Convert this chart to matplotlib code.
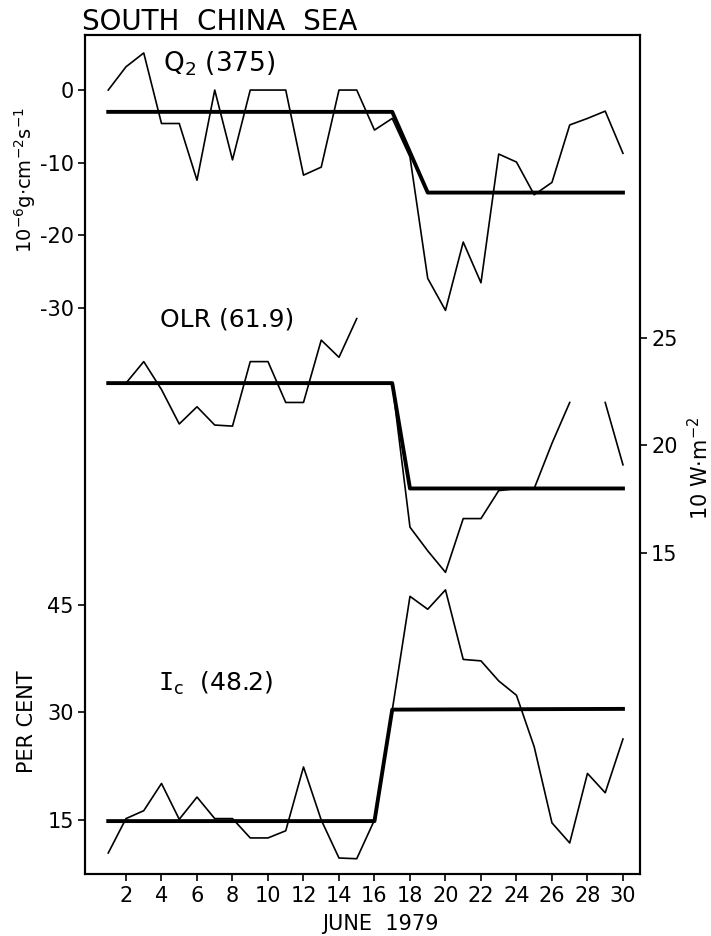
import numpy as np
import matplotlib.pyplot as plt

plt.rcParams['axes.unicode_minus'] = False
plt.rcParams['font.family'] = 'DejaVu Sans'

days = np.arange(1, 31)

# Q2 apparent moisture sink (10^-6 g cm^-2 s^-1)
q2 = [0, 3.2, 5.1, -4.6, -4.6, -12.4, 0, -9.6, 0, 0,
      0, -11.7, -10.6, 0, 0, -5.5, -3.9, -9.2, -25.9, -30.3,
      -20.9, -26.5, -8.8, -9.9, -14.4, -12.7, -4.8, -3.9, -2.9, -8.7]
q2_mean_days = [1, 17, 19, 30]
q2_mean = [-3.0, -3.0, -14.1, -14.1]

# OLR (10 W m^-2)
olr = [22.9, 22.9, 23.9, 22.6, 21.0, 21.8, 20.95, 20.9, 23.9, 23.9,
       22.0, 22.0, 24.9, 24.1, 25.9, np.nan, 22.9, 16.2, 15.1, 14.1,
       16.6, 16.6, 17.9, 18.0, 18.0, 20.1, 22.0, np.nan, 22.0, 19.1]
olr_mean_days = [1, 17, 18, 30]
olr_mean = [22.9, 22.9, 18.0, 18.0]

# Ic (per cent)
ic = [10.4, 15.2, 16.3, 20.1, 15.1, 18.2, 15.2, 15.2, 12.5, 12.5,
      13.5, 22.4, 15.0, 9.7, 9.6, 15.0, 30.3, 46.2, 44.4, 47.1,
      37.4, 37.2, 34.4, 32.4, 25.2, 14.6, 11.8, 21.5, 18.8, 26.3]
ic_mean_days = [1, 16, 17, 30]
ic_mean = [14.85, 14.85, 30.4, 30.5]

W, H = 711, 936
fig = plt.figure(figsize=(W / 100, H / 100), dpi=100)
rect = [85 / W, 1 - 874 / H, (640 - 85) / W, (874 - 35) / H]

ax = fig.add_axes(rect)
ax_olr = ax.twinx()
ax_ic = ax.twinx()

thin = 1.2
thick = 2.8

ax.plot(days, q2, color='black', lw=thin)
ax.plot(q2_mean_days, q2_mean, color='black', lw=thick)
ax_olr.plot(days, olr, color='black', lw=thin)
ax_olr.plot(olr_mean_days, olr_mean, color='black', lw=thick)
ax_ic.plot(days, ic, color='black', lw=thin)
ax_ic.plot(ic_mean_days, ic_mean, color='black', lw=thick)

ax.set_xlim(-0.31, 30.96)
ax.set_ylim(-107.8, 7.57)
ax_olr.set_ylim(0.07, 39.09)
ax_ic.set_ylim(7.47, 124.5)

ax.set_xticks(np.arange(2, 31, 2))
ax.set_yticks([0, -10, -20, -30])
ax_olr.set_yticks([15, 20, 25])
ax_ic.yaxis.tick_left()
ax_ic.set_yticks([15, 30, 45])
for s in ax_ic.spines.values():
    s.set_visible(False)

for a in (ax, ax_olr, ax_ic):
    a.tick_params(direction='out', length=5, width=1.2, labelsize=15, pad=3)
    for s in a.spines.values():
        s.set_linewidth(1.5)
ax.tick_params(axis='x', pad=4)

fig.text(82 / W, 1 - 30 / H, 'SOUTH  CHINA  SEA', fontsize=20, ha='left', va='baseline')
fig.text(163 / W, 1 - 71 / H, r'Q$_2$ (375)', fontsize=19, ha='left', va='baseline')
fig.text(160 / W, 1 - 326 / H, 'OLR (61.9)', fontsize=18, ha='left', va='baseline')
fig.text(158 / W, 1 - 691 / H, r'$\mathtt{I}_\mathrm{c}$  (48.2)', fontsize=18, ha='left', va='baseline')

fig.text(25 / W, 1 - 180 / H, r'10$^{-6}$g$\cdot$cm$^{-2}$s$^{-1}$', fontsize=14,
         rotation=90, ha='center', va='center')
fig.text(27 / W, 1 - 722 / H, 'PER CENT', fontsize=15, rotation=90, ha='center', va='center')
fig.text(700 / W, 1 - 468 / H, r'10 W$\cdot$m$^{-2}$', fontsize=15, rotation=90,
         ha='center', va='center')
fig.text(380 / W, 1 - 924 / H, 'JUNE  1979', fontsize=15, ha='center', va='center')

fig.savefig('out.png', dpi=100)
